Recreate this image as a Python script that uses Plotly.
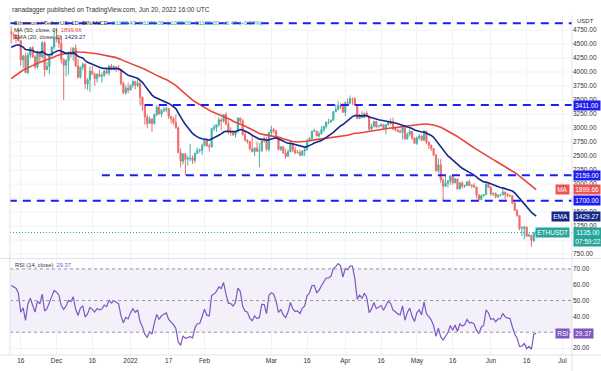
import pandas as pd
import plotly.graph_objects as go

# ---------------- data ----------------
start_date = "2021-11-12"
end_date = "2022-06-20"

# closes Sep 23 - Nov 11 2021 (indicator warm-up only, not drawn)
warmup_close = [3155, 2930, 2925, 3062, 2932, 2807, 2850, 3001,
                3308, 3390, 3418, 3383, 3517, 3587, 3560, 3545, 3577, 3415, 3543, 3492,
                3605, 3788, 3867, 3829, 3846, 3745, 3875, 4155, 4055, 3972, 4169, 4084,
                4218, 4131, 3923, 4288, 4416, 4323, 4288,
                4323, 4586, 4605, 4530, 4476, 4518, 4610, 4806, 4731, 4633, 4717]

close = [4667, 4650, 4626, 4557, 4216, 4290, 3990, 4305, 4437, 4270, 4090, 4340, 4270, 4522, 4041, 4100, 4293, 4444, 4631,
         4586, 4512, 4225, 4119, 4200, 4344, 4310, 4430, 4112, 3909, 4084, 4138, 3784, 3859, 4016, 3959, 3883, 3960, 3922,
         3939, 4018, 3982, 4107, 4047, 4094, 4067, 4037, 3797, 3629, 3710, 3676,
         3765, 3829, 3761, 3794, 3550, 3415, 3196, 3079, 3156, 3083, 3239, 3372, 3250, 3308, 3331, 3350, 3211, 3164, 3095,
         3002, 2562, 2406, 2538, 2441, 2458, 2464, 2422, 2547, 2601, 2603, 2688,
         2792, 2680, 2665, 2988, 3011, 3058, 3146, 3123, 3240, 3076, 2928, 2920, 2880, 2934, 3180, 3128, 2880, 2785, 2761,
         2630, 2575, 2641, 2586, 2598, 2781, 2778, 2620, 2921,
         2972, 2950, 2834, 2619, 2665, 2555, 2496, 2575, 2728, 2607, 2555, 2564, 2515, 2590, 2618, 2772, 2815, 2944, 2949,
         2859, 2896, 2970, 3030, 3108, 3109, 3141, 3292, 3329, 3400, 3383, 3281,
         3456, 3444, 3522, 3521, 3411, 3169, 3233, 3188, 3262, 3210, 2981, 3030, 3118, 3021, 3040, 3061, 2992, 3058, 3104,
         3077, 2987, 2965, 2935, 2922, 3008, 2808, 2890, 2938, 2817, 2727,
         2826, 2857, 2782, 2941, 2748, 2696, 2636, 2518, 2243, 2343, 2073, 1961, 2014, 2056, 2145, 2023, 2091, 1913, 2018,
         1960, 1975, 2043, 1972, 1978, 1943, 1802, 1724, 1792, 1813, 1996, 1942,
         1822, 1834, 1775, 1805, 1806, 1859, 1813, 1792, 1789, 1664, 1529, 1436, 1208, 1210, 1232, 1067, 1087, 993, 1128,
         1135]

high = [4810, 4705, 4680, 4775, 4567, 4300, 4345, 4350, 4450, 4460, 4300, 4380, 4370, 4550, 4550, 4180, 4300, 4460, 4760,
        4778, 4620, 4650, 4240, 4230, 4370, 4440, 4440, 4490, 4230, 4100, 4170, 4150, 3890, 4100, 4110, 3990, 3980, 4040,
        3990, 4040, 4050, 4120, 4145, 4125, 4100, 4125, 4040, 3830, 3765, 3810,
        3770, 3860, 3845, 3880, 3850, 3560, 3415, 3240, 3205, 3180, 3260, 3410, 3390, 3340, 3375, 3370, 3355, 3215, 3200,
        3240, 3030, 2635, 2550, 2555, 2500, 2720, 2510, 2560, 2650, 2630, 2720,
        2810, 2795, 2720, 3000, 3060, 3070, 3195, 3170, 3240, 3280, 3135, 3010, 2960, 2960, 3190, 3180, 3160, 2940, 2800,
        2765, 2860, 2660, 2755, 2730, 2800, 2850, 2840, 2930,
        3040, 3000, 2970, 2850, 2680, 2675, 2635, 2615, 2760, 2730, 2665, 2605, 2615, 2600, 2650, 2800, 2835, 2950, 2990,
        2950, 2935, 3035, 3035, 3115, 3165, 3150, 3295, 3420, 3480, 3445, 3445,
        3470, 3530, 3580, 3545, 3555, 3410, 3255, 3300, 3275, 3300, 3225, 3075, 3130, 3130, 3055, 3080, 3075, 3060, 3130,
        3170, 3185, 3030, 2985, 2975, 3025, 3035, 2920, 2980, 2945, 2840,
        2850, 2890, 2875, 2960, 2955, 2760, 2700, 2640, 2535, 2460, 2445, 2100, 2150, 2070, 2155, 2145, 2110, 2095, 2040,
        2055, 1990, 2045, 2085, 1995, 2015, 1955, 1820, 1815, 1820, 2015, 2015,
        1970, 1850, 1850, 1810, 1825, 1915, 1865, 1840, 1815, 1795, 1680, 1550, 1440, 1250, 1255, 1240, 1120, 1090, 1150,
        1170.00]

low = [4510, 4580, 4520, 4550, 4110, 4060, 3975, 3960, 4250, 4255, 4055, 4060, 4170, 4245, 3920, 4035, 3965, 4280, 4400,
       4530, 4430, 4150, 3500, 3920, 3950, 4255, 4200, 4090, 3880, 3880, 4030, 3700, 3680, 3640, 3950, 3750, 3815, 3905,
       3810, 3915, 3960, 3935, 4030, 4030, 4000, 4020, 3760, 3605, 3590, 3620,
       3680, 3720, 3695, 3730, 3400, 3310, 3060, 3000, 3075, 2930, 3060, 3215, 3240, 3200, 3285, 3280, 3160, 3080, 3060,
       2990, 2550, 2300, 2350, 2159, 2330, 2410, 2360, 2380, 2540, 2560, 2525,
       2670, 2670, 2580, 2650, 2950, 2930, 3020, 2960, 3095, 3050, 2885, 2860, 2860, 2830, 2920, 3080, 2865, 2760, 2720,
       2600, 2570, 2500, 2580, 2300, 2570, 2735, 2590, 2580,
       2860, 2900, 2810, 2600, 2590, 2545, 2450, 2490, 2575, 2570, 2535, 2550, 2500, 2500, 2500, 2595, 2770, 2760, 2925,
       2855, 2835, 2890, 2935, 2990, 3070, 3090, 3125, 3285, 3325, 3340, 3275,
       3210, 3440, 3420, 3410, 3400, 3160, 3160, 3180, 3185, 3200, 2950, 2960, 3010, 3000, 3015, 3025, 2985, 2890, 3040,
       3060, 2960, 2940, 2930, 2915, 2795, 2790, 2790, 2850, 2785, 2720,
       2700, 2790, 2765, 2775, 2715, 2625, 2590, 2500, 2220, 2200, 2020, 1700, 1950, 1935, 1985, 1990, 2015, 1905, 1905,
       1920, 1935, 1965, 1960, 1920, 1945, 1745, 1705, 1710, 1770, 1805, 1925,
       1790, 1790, 1745, 1750, 1780, 1800, 1725, 1765, 1775, 1645, 1520, 1420, 1175, 1075, 1015, 1060, 1060, 881, 960,
       1083.09]

levels = [4870, 3411, 2159, 1700]
level_starts = ["2021-11-11", "2022-01-07", "2021-12-20", "2021-11-11"]
level_labels = ["", "3411.00", "2159.00", "1700.00"]

x_tick_dates = ["2021-11-16", "2021-12-01", "2021-12-16", "2022-01-01", "2022-01-17", "2022-02-01",
                "2022-03-01", "2022-03-16", "2022-04-01", "2022-04-16", "2022-05-01", "2022-05-16",
                "2022-06-01", "2022-06-16", "2022-07-01"]
x_tick_text = ["16", "Dec", "16", "2022", "17", "Feb", "Mar", "16", "Apr", "16", "May", "16", "Jun", "16", "Jul"]
price_ticks = [750, 1250, 1500, 2000, 2250, 2500, 2750, 3000, 3250, 3500, 3750, 4000, 4250, 4500, 4750]
price_grid = [750, 1000, 1250, 1500, 1750, 2000, 2250, 2500, 2750, 3000, 3250, 3500, 3750, 4000, 4250, 4500, 4750]
rsi_ticks = [20, 40, 50, 60, 70]

last_open, last_high, last_low, last_close = "1128.43", "1170.00", "1083.09", "1135.00"
ma_value, ema_value, rsi_value = "1899.66", "1429.27", "29.37"

# ---------------- indicators ----------------
dates = pd.date_range(start_date, end_date, freq="D")
all_close = pd.Series(warmup_close + close, dtype=float)
opens = list(all_close.shift(1).iloc[len(warmup_close):])
opens[-1] = float(last_open)
ma50 = all_close.rolling(50).mean().iloc[len(warmup_close):].values
ema20 = all_close.ewm(span=20, adjust=False).mean().iloc[len(warmup_close):].values
delta = all_close.diff()
gain = delta.clip(lower=0).ewm(alpha=1 / 14, adjust=False).mean()
loss = (-delta.clip(upper=0)).ewm(alpha=1 / 14, adjust=False).mean()
rsi = (100 - 100 / (1 + gain / loss)).iloc[len(warmup_close):].values

# ---------------- figure ----------------
W, H = 601, 371
def py(px):  # pixel from top -> paper y
    return 1 - px / H

X0, X1 = 10 / W, 572 / W
FONT = "Liberation Sans"
UP, DOWN = "#26a69a", "#ef5350"
LVL = "#1e1ef0"
grid = "#f0f3fa"

fig = go.Figure()
fig.add_trace(go.Candlestick(
    x=dates, open=opens, high=high, low=low, close=close,
    increasing=dict(line=dict(color=UP, width=1), fillcolor=UP),
    decreasing=dict(line=dict(color=DOWN, width=1), fillcolor=DOWN),
    whiskerwidth=0, opacity=0.85, xaxis="x", yaxis="y", showlegend=False, hoverinfo="skip"))
fig.add_trace(go.Scatter(x=dates, y=ma50, mode="lines", line=dict(color="#e8453c", width=1.6),
                         xaxis="x", yaxis="y", showlegend=False, hoverinfo="skip"))
fig.add_trace(go.Scatter(x=dates, y=ema20, mode="lines", line=dict(color="#14288a", width=1.6),
                         xaxis="x", yaxis="y", showlegend=False, hoverinfo="skip"))
fig.add_trace(go.Scatter(x=dates, y=rsi, mode="lines", line=dict(color="#7e57c2", width=1.2),
                         xaxis="x2", yaxis="y2", showlegend=False, hoverinfo="skip"))

shapes = []
# horizontal price grid (every 250, including levels whose labels are hidden behind boxes)
for g in price_grid:
    shapes.append(dict(type="line", xref="paper", yref="y", x0=X0, x1=X1, y0=g, y1=g,
                       line=dict(color=grid, width=1), layer="below"))
for lv, st in zip(levels, level_starts):
    shapes.append(dict(type="line", xref="x", yref="y", x0=st, x1="2022-07-05", y0=lv, y1=lv,
                       line=dict(color=LVL, width=2, dash="8px,6px")))
# last price dotted line
shapes.append(dict(type="line", xref="paper", yref="y", x0=X0, x1=X1, y0=float(last_close), y1=float(last_close),
                   line=dict(color=UP, width=1, dash="1px,2px")))
# RSI band and levels
shapes.append(dict(type="rect", xref="paper", yref="y2", x0=X0, x1=X1, y0=30, y1=70,
                   fillcolor="rgba(126,87,194,0.09)", line=dict(width=0), layer="below"))
for lv in [30, 50, 70]:
    shapes.append(dict(type="line", xref="paper", yref="y2", x0=X0, x1=X1, y0=lv, y1=lv,
                       line=dict(color="#9598a1", width=1, dash="3px,3px")))
# pane separator and frame
shapes.append(dict(type="line", xref="paper", yref="paper", x0=0, x1=1, y0=py(258.5), y1=py(258.5),
                   line=dict(color="#e0e3eb", width=1)))
shapes.append(dict(type="line", xref="paper", yref="paper", x0=0, x1=1, y0=py(355), y1=py(355),
                   line=dict(color="#e0e3eb", width=1)))
shapes.append(dict(type="line", xref="paper", yref="paper", x0=X0, x1=X0, y0=py(355), y1=py(15),
                   line=dict(color="#e0e3eb", width=1)))
shapes.append(dict(type="line", xref="paper", yref="paper", x0=X1, x1=X1, y0=py(371), y1=py(15),
                   line=dict(color="#e0e3eb", width=1)))

ann = []
def box(text, y, yref, bg, x=573 / W, xanchor="left", fc="white", yshift=0):
    ann.append(dict(text=text, x=x, y=y, xref="paper", yref=yref, xanchor=xanchor, yanchor="middle",
                    showarrow=False, bgcolor=bg, borderpad=1.2, yshift=yshift,
                    font=dict(family=FONT, size=6.5, color=fc)))

for lv, lab in zip(levels, level_labels):
    if lab:
        box(lab, lv, "y", LVL)
box(ma_value, 1899.66, "y", "#ef5350")
box("MA", 1899.66, "y", "#ef5350", x=570 / W, xanchor="right")
box(ema_value, 1429.27, "y", "#14288a")
box("EMA", 1429.27, "y", "#14288a", x=570 / W, xanchor="right")
box(last_close + "<br>07:59:22", float(last_close), "y", UP, yshift=-4)
box("ETHUSDT", float(last_close), "y", UP, x=570 / W, xanchor="right")
box(rsi_value, float(rsi_value), "y2", "#7e57c2")
box("RSI", float(rsi_value), "y2", "#7e57c2", x=570 / W, xanchor="right")

ann.append(dict(text="USDT", x=575 / W, y=py(21.5), xref="paper", yref="paper", xanchor="left", yanchor="middle",
                showarrow=False, font=dict(family=FONT, size=6, color="#333")))
ann.append(dict(text="ranadagger published on TradingView.com, Jun 20, 2022 16:00 UTC",
                x=10 / W, y=py(10), xref="paper", yref="paper", xanchor="left", yanchor="middle",
                showarrow=False, font=dict(family=FONT, size=6.5, color="#333")))
t = ("Ethereum / TetherUS, 1D, BINANCE  "
     f"<span style='color:{UP}'>O{last_open}  H{last_high}  L{last_low}  C{last_close}  +6.47 (+0.57%)</span>")
ann.append(dict(text=t, x=12 / W, y=py(23), xref="paper", yref="paper", xanchor="left", yanchor="middle",
                showarrow=False, font=dict(family=FONT, size=5.8, color="#333")))
ann.append(dict(text=f"MA (50, close, 0)  <span style='color:#e8453c'>{ma_value}</span>",
                x=12 / W, y=py(30), xref="paper", yref="paper", xanchor="left", yanchor="middle",
                showarrow=False, font=dict(family=FONT, size=5.8, color="#333")))
ann.append(dict(text=f"EMA (20, close, 0)  <span style='color:#14288a'>{ema_value}</span>",
                x=12 / W, y=py(37), xref="paper", yref="paper", xanchor="left", yanchor="middle",
                showarrow=False, font=dict(family=FONT, size=5.8, color="#333")))
ann.append(dict(text=f"RSI (14, close)  <span style='color:#7e57c2'>{rsi_value}</span>",
                x=13 / W, y=py(265), xref="paper", yref="paper", xanchor="left", yanchor="middle",
                showarrow=False, font=dict(family=FONT, size=5.8, color="#333")))

xr = ["2021-11-11 12:00", "2022-07-05"]
fig.update_layout(
    width=W, height=H, autosize=False, margin=dict(l=0, r=0, t=0, b=0),
    paper_bgcolor="white", plot_bgcolor="white", showlegend=False,
    shapes=shapes, annotations=ann,
    xaxis=dict(domain=[X0, X1], anchor="y", range=xr, rangeslider=dict(visible=False),
               tickvals=x_tick_dates, showticklabels=False, showgrid=True, gridcolor=grid, zeroline=False,
               fixedrange=True),
    xaxis2=dict(domain=[X0, X1], anchor="y2", range=xr, matches="x", tickvals=x_tick_dates,
                ticktext=x_tick_text, showgrid=True, gridcolor=grid, zeroline=False, ticks="",
                tickfont=dict(family=FONT, size=6.5, color="#333")),
    yaxis=dict(domain=[py(258), py(16)], range=[680, 5000], side="right", anchor="x",
               tickvals=price_ticks, tickformat=".2f", showgrid=False, zeroline=False,
               ticks="", tickfont=dict(family=FONT, size=6.5, color="#333")),
    yaxis2=dict(domain=[py(355), py(259)], range=[15.6, 76.3], side="right", anchor="x2",
                tickvals=rsi_ticks, tickformat=".2f", showgrid=True, gridcolor=grid, zeroline=False,
                ticks="", tickfont=dict(family=FONT, size=6.5, color="#333")),
)
fig.write_html("out.html", config={"displayModeBar": False},
               post_script="document.body.style.margin='0';document.body.style.overflow='hidden';")
